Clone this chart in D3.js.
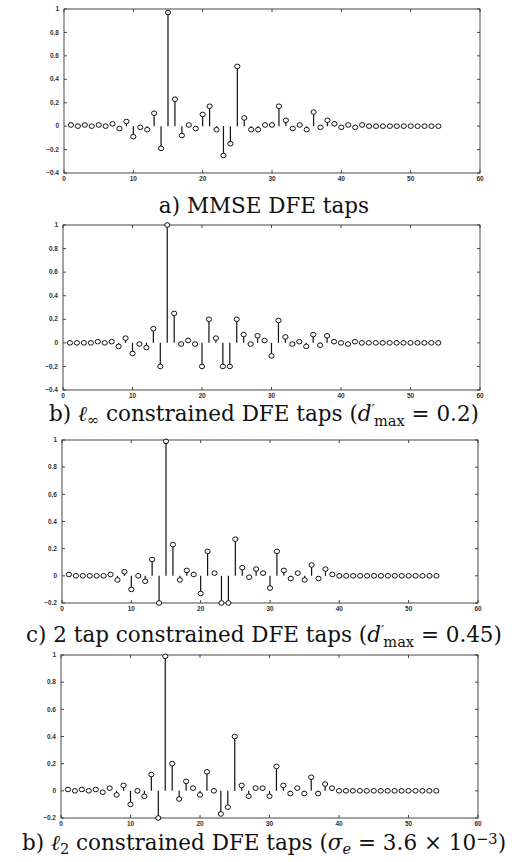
<!DOCTYPE html>
<html lang="en">
<head>
<meta charset="UTF-8">
<script src="https://d3js.org/d3.v7.min.js"></script>
<title>DFE taps</title>
<style>
    body { margin: 0; background: #fff; }
    svg { display: block; }
    .tick-label { font-family: "Liberation Sans", Arial, sans-serif; font-size: 6.5px; font-weight: bold; fill: #333; }
    .caption { font-family: "DejaVu Serif", "Liberation Serif", serif; fill: #111; }
</style>
</head>
<body>
<div id="chart"></div>
<script>
    // tap values, n = 1..54
    const tapIndex = d3.range(1, 55);

    const mmseTaps = [0.01, 0, 0.01, 0, 0.01, 0, 0.02, -0.02, 0.04, -0.09,
        -0.01, -0.03, 0.11, -0.19, 0.97, 0.23, -0.08, 0.01, -0.02, 0.10,
        0.17, -0.03, -0.25, -0.15, 0.51, 0.07, -0.03, -0.03, 0.01, 0.01,
        0.17, 0.05, -0.02, 0.01, -0.03, 0.12, -0.01, 0.05, 0.02, -0.01,
        0.01, -0.01, 0.01, 0, 0, 0, 0, 0, 0, 0,
        0, 0, 0, 0];

    const linfTaps = [0, 0, 0, 0, 0.01, 0, 0.01, -0.03, 0.04, -0.09,
        -0.01, -0.04, 0.12, -0.2, 1.0, 0.25, -0.01, 0.02, -0.01, -0.2,
        0.2, 0.04, -0.2, -0.2, 0.2, 0.07, -0.01, 0.06, 0.02, -0.11,
        0.19, 0.05, -0.01, 0.01, -0.03, 0.07, -0.02, 0.06, 0.01, 0,
        -0.01, 0.01, 0, 0, 0, 0, 0, 0, 0, 0,
        0, 0, 0, 0];

    const twoTapTaps = [0.01, 0, 0, 0, 0, 0, 0.01, -0.03, 0.03, -0.1,
        0, -0.04, 0.12, -0.2, 0.99, 0.23, -0.03, 0.04, 0.01, -0.13,
        0.18, 0.02, -0.2, -0.2, 0.27, 0.06, -0.01, 0.05, 0.02, -0.09,
        0.18, 0.04, -0.02, 0.02, -0.03, 0.08, -0.02, 0.05, 0.01, 0,
        0, 0, 0, 0, 0, 0, 0, 0, 0, 0,
        0, 0, 0, 0];

    const l2Taps = [0.01, 0, 0.01, 0, 0.01, -0.01, 0.02, -0.03, 0.04, -0.1,
        0, -0.04, 0.12, -0.2, 0.99, 0.2, -0.06, 0.07, 0.02, -0.03,
        0.14, 0, -0.17, -0.12, 0.4, 0.04, -0.04, 0.02, 0.02, -0.04,
        0.18, 0.04, -0.02, 0.02, -0.02, 0.1, -0.02, 0.05, 0.02, 0,
        0, 0, 0, 0, 0, 0, 0, 0, 0, 0,
        0, 0, 0, 0];

    const xTicks = [0, 10, 20, 30, 40, 50, 60];
    const yTicksWide = [-0.4, -0.2, 0, 0.2, 0.4, 0.6, 0.8, 1];
    const yTicksNarrow = [-0.2, 0, 0.2, 0.4, 0.6, 0.8, 1];

    const width = 512;
    const height = 862;

    const svg = d3.select("#chart")
        .append("svg")
        .attr("width", width)
        .attr("height", height);

    const panels = [
        { values: mmseTaps, yTicks: yTicksWide, left: 64, right: 480, top: 9, bottom: 173, capY: 213, capW: 220,
          caption: [["a) MMSE DFE taps"]] },
        { values: linfTaps, yTicks: yTicksWide, left: 63, right: 480, top: 225, bottom: 390, capY: 421, capW: 439,
          caption: [["b) "], ["ℓ", "italic"], ["∞", "sub"], [" constrained DFE taps ("], ["d", "italic"], ["′", "sup"],
                    ["max", "sub2"], [" = 0.2)"]] },
        { values: twoTapTaps, yTicks: yTicksNarrow, left: 62, right: 478, top: 440, bottom: 603, capY: 642, capW: 477,
          caption: [["c) 2 tap constrained DFE taps ("], ["d", "italic"], ["′", "sup"],
                    ["max", "sub2"], [" = 0.45)"]] },
        { values: l2Taps, yTicks: yTicksNarrow, left: 61, right: 478, top: 655, bottom: 818, capY: 850, capW: 497,
          caption: [["b) "], ["ℓ", "italic"], ["2", "sub"], [" constrained DFE taps ("], ["σ", "italic"], ["e", "subi"],
                    [" = 3.6 × 10"], ["−3", "sup"], [")"]] }
    ];

    panels.forEach(p => {
        const g = svg.append("g");

        const x = d3.scaleLinear().domain([0, 60]).range([p.left, p.right]);
        const y = d3.scaleLinear().domain([p.yTicks[0], 1]).range([p.bottom, p.top]);

        // frame
        g.append("rect")
            .attr("x", p.left).attr("y", p.top)
            .attr("width", p.right - p.left).attr("height", p.bottom - p.top)
            .attr("fill", "none").attr("stroke", "#333").attr("stroke-width", 0.9);

        // inward ticks on all sides
        const tl = 3;
        g.selectAll(".yt").data(p.yTicks).enter().append("path")
            .attr("d", d => `M${p.left},${y(d)}h${tl}M${p.right},${y(d)}h${-tl}`)
            .attr("stroke", "#333").attr("stroke-width", 0.9);
        g.selectAll(".xt").data(xTicks).enter().append("path")
            .attr("d", d => `M${x(d)},${p.bottom}v${-tl}M${x(d)},${p.top}v${tl}`)
            .attr("stroke", "#333").attr("stroke-width", 0.9);

        g.selectAll(".yl").data(p.yTicks).enter().append("text")
            .attr("class", "tick-label")
            .attr("x", p.left - 5).attr("y", d => y(d) + 2.2)
            .attr("text-anchor", "end")
            .text(d => d3.format("~g")(d).replace("-", "\u2212"));
        g.selectAll(".xl").data(xTicks).enter().append("text")
            .attr("class", "tick-label")
            .attr("x", d => x(d)).attr("y", p.bottom + 8)
            .attr("text-anchor", "middle")
            .text(d => d);

        const data = tapIndex.map((n, i) => ({ n: n, v: p.values[i] }));

        // stems
        g.selectAll(".stem").data(data).enter().append("line")
            .attr("x1", d => x(d.n)).attr("x2", d => x(d.n))
            .attr("y1", y(0)).attr("y2", d => y(d.v))
            .attr("stroke", "#111").attr("stroke-width", 1.2);

        // markers
        g.selectAll(".mk").data(data).enter().append("ellipse")
            .attr("cx", d => x(d.n)).attr("cy", d => y(d.v))
            .attr("rx", 2.6).attr("ry", 2.3)
            .attr("fill", "#fff").attr("stroke", "#111").attr("stroke-width", 1);

        // caption
        const cap = g.append("text")
            .attr("class", "caption")
            .attr("x", 264).attr("y", p.capY)
            .attr("text-anchor", "middle")
            .style("font-size", "18px");
        p.caption.forEach(([t, kind]) => {
            const ts = cap.append("tspan").text(t);
            if (kind === "italic") ts.style("font-style", "italic");
            if (kind === "sub") ts.attr("baseline-shift", "-25%").style("font-size", "0.68em");
            if (kind === "subi") ts.attr("baseline-shift", "-25%").style("font-size", "0.68em").style("font-style", "italic");
            if (kind === "sup") ts.attr("baseline-shift", "40%").style("font-size", "0.68em");
            if (kind === "sub2") ts.attr("baseline-shift", "-30%").style("font-size", "0.68em").attr("dx", -1);
        });
        const w = cap.node().getComputedTextLength();
        cap.style("font-size", Math.min(21.5, 18 * p.capW / w).toFixed(2) + "px");
    });
</script>
</body>
</html>
